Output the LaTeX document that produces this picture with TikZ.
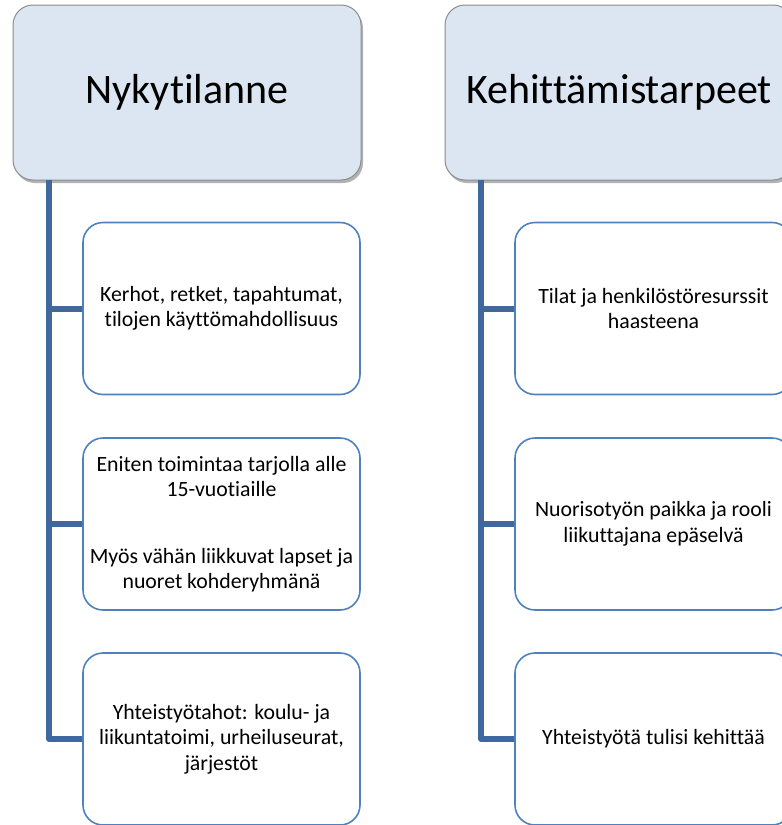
\documentclass[tikz,border=0pt]{standalone}
\usepackage{fontspec}
\setmainfont{Carlito}[Ligatures=NoCommon]
\usetikzlibrary{positioning,shadows}

\definecolor{headfill}{RGB}{220,230,242}
\definecolor{headline}{RGB}{140,140,140}
\definecolor{boxline}{RGB}{79,129,189}
\definecolor{connline}{RGB}{65,104,156}

\begin{document}
\begin{tikzpicture}[
    x=1pt, y=-1pt,
    head/.style={draw=headline, line width=1pt, fill=headfill, rounded corners=20pt,
        minimum width=348pt, minimum height=175pt, font=\fontsize{42}{50}\selectfont,
        drop shadow={shadow xshift=2pt, shadow yshift=-3pt, fill=black, opacity=0.3}},
    item/.style={draw=boxline, line width=1.6pt, fill=white, rounded corners=20pt,
        minimum width=277pt, minimum height=172pt, align=center,
        font=\fontsize{21.8}{25.5}\selectfont},
    conn/.style={draw=connline, line width=6pt, line join=round}
]
    \useasboundingbox (0,0) rectangle (782,825);
    \clip (0,0) rectangle (782,825);

    % Headers
    \node[head] (nyky) at (187,92.5) {Nykytilanne};
    \node[head] (kehi) at (619,92.5) {Kehittämistarpeet};

    % Trunk start points
    \coordinate (trunkL) at (49,180);
    \coordinate (trunkR) at (481,180);

    % Left column items
    \node[item] (n1) at (221.5,308.5) {Kerhot, retket, tapahtumat,\\ tilojen käyttömahdollisuus};
    \node[item] (n2) at (221.5,524) {Eniten toimintaa tarjolla alle\\ 15-vuotiaille\\[41pt]
        Myös vähän liikkuvat lapset ja\\ nuoret kohderyhmänä};
    \node[item] (n3) at (221.5,739) {Yhteistyötahot: koulu- ja\\ liikuntatoimi, urheiluseurat,\\ järjestöt};

    % Right column items
    \node[item] (k1) at (653.5,308.5) {Tilat ja henkilöstöresurssit\\ haasteena};
    \node[item] (k2) at (653.5,524) {Nuorisotyön paikka ja rooli\\ liikuttajana epäselvä};
    \node[item] (k3) at (653.5,739) {Yhteistyötä tulisi kehittää};

    % Connectors
    \draw[conn] (trunkL) |- (n3.west);
    \draw[conn] (trunkL |- n1.west) -- (n1.west);
    \draw[conn] (trunkL |- n2.west) -- (n2.west);
    \draw[conn] (trunkR) |- (k3.west);
    \draw[conn] (trunkR |- k1.west) -- (k1.west);
    \draw[conn] (trunkR |- k2.west) -- (k2.west);
\end{tikzpicture}
\end{document}
